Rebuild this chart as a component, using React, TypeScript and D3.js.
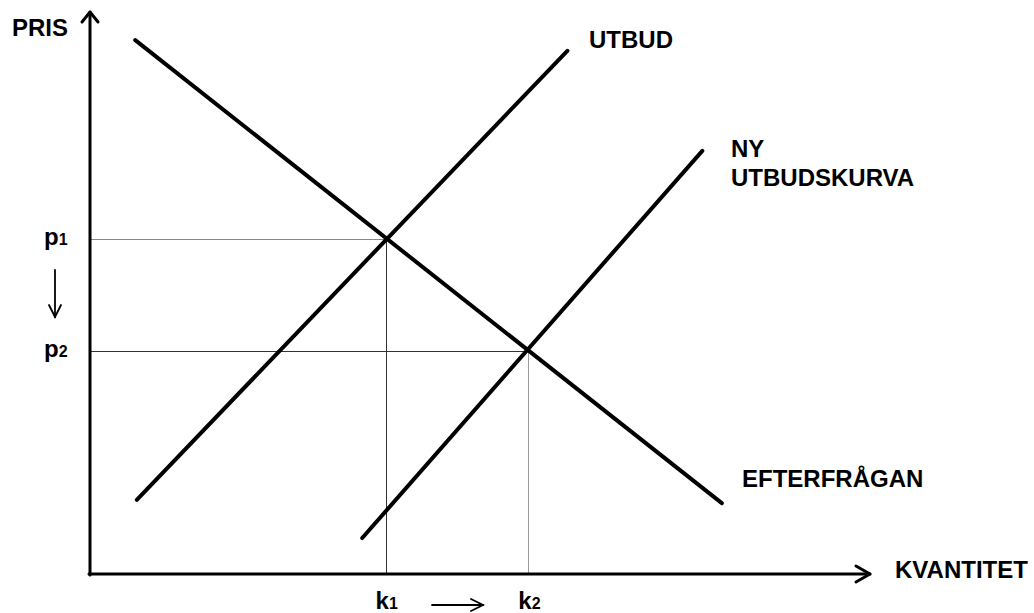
import * as d3 from "d3";
import { useEffect, useRef } from "react";

// quantities (x) and prices (y) of the curve end points, in axis units 0-100
const demandQ = [5.8, 81.0];
const demandP = [95.0, 12.6];
const supplyQ = [6.0, 61.2];
const supplyP = [13.2, 93.1];
const newSupplyQ = [34.9, 78.5];
const newSupplyP = [6.4, 75.3];

// equilibria
const eqQ = [37.9, 56.2];
const eqP = [59.6, 39.7];
const priceLabels = ["1", "2"];
const qtyLabels = ["1", "2"];

const axisTitles = { x: "KVANTITET", y: "PRIS" };
const curveLabels = ["UTBUD", "NY", "UTBUDSKURVA", "EFTERFRÅGAN"];

export default function App() {
  const ref = useRef<SVGSVGElement>(null);

  useEffect(() => {
    const width = 1034,
      height = 613;
    const svg = d3.select(ref.current);
    svg.selectAll("*").remove();

    const x = d3.scaleLinear().domain([0, 100]).range([90, 870]);
    const y = d3.scaleLinear().domain([0, 100]).range([574, 12]);
    const font = "'Liberation Sans', Arial, sans-serif";

    svg.append("rect").attr("width", width).attr("height", height).attr("fill", "#fff");

    // guide lines to the axes
    const g = svg.append("g").attr("stroke-width", 1).attr("fill", "none");
    eqQ.forEach((q, i) => {
      g.append("line")
        .attr("x1", x(0))
        .attr("x2", x(q))
        .attr("y1", Math.round(y(eqP[i])) + 0.5)
        .attr("y2", Math.round(y(eqP[i])) + 0.5)
        .attr("stroke", i === 0 ? "#888" : "#333");
      g.append("line")
        .attr("x1", Math.round(x(q)) + 0.5)
        .attr("x2", Math.round(x(q)) + 0.5)
        .attr("y1", y(eqP[i]))
        .attr("y2", y(0))
        .attr("stroke", i === 0 ? "#333" : "#999");
    });

    // curves
    const curves = [
      [demandQ, demandP],
      [supplyQ, supplyP],
      [newSupplyQ, newSupplyP],
    ];
    curves.forEach(([qs, ps]) => {
      const pts: [number, number][] = qs.map((q, i) => [x(q), y(ps[i])]);
      svg
        .append("path")
        .attr("d", d3.line()(pts))
        .attr("stroke", "#000")
        .attr("stroke-width", 4)
        .attr("stroke-linecap", "round")
        .attr("fill", "none");
    });

    // axes
    const ax = svg
      .append("g")
      .attr("stroke", "#000")
      .attr("stroke-width", 3)
      .attr("fill", "none")
      .attr("stroke-linecap", "round")
      .attr("stroke-linejoin", "round");
    ax.append("line").attr("x1", x(0)).attr("x2", x(0)).attr("y1", y(0) + 1).attr("y2", y(100));
    ax.append("line").attr("x1", x(0) - 1).attr("x2", x(100)).attr("y1", y(0)).attr("y2", y(0));
    ax.append("path").attr("d", `M${x(0) - 8},${y(100) + 10}L${x(0)},${y(100)}L${x(0) + 8},${y(100) + 10}`);
    ax.append("path").attr("d", `M${x(100) - 14},${y(0) - 8}L${x(100)},${y(0)}L${x(100) - 14},${y(0) + 8}`);

    const text = (tx: number, ty: number, s: string) =>
      svg
        .append("text")
        .attr("x", tx)
        .attr("y", ty)
        .attr("font-family", font)
        .attr("font-weight", "bold")
        .attr("font-size", 24)
        .attr("fill", "#000")
        .text(s);

    text(12, 36, axisTitles.y);
    text(895, 578, axisTitles.x);
    text(589, 48, curveLabels[0]);
    text(731, 157, curveLabels[1]);
    text(731, 186, curveLabels[2]);
    text(742, 487, curveLabels[3]);

    // p1, p2
    eqP.forEach((p, i) => {
      const t = text(44, y(p) + 6, "p");
      t.append("tspan").attr("font-size", 16).text(priceLabels[i]);
    });
    // k1, k2
    eqQ.forEach((q, i) => {
      const t = text(x(q) - 10, 609, "k");
      t.append("tspan").attr("font-size", 16).text(qtyLabels[i]);
    });

    // small shift arrows
    const sa = svg
      .append("g")
      .attr("stroke", "#000")
      .attr("stroke-width", 1.8)
      .attr("fill", "none")
      .attr("stroke-linecap", "round");
    sa.append("line").attr("x1", 55).attr("x2", 55).attr("y1", 270).attr("y2", 317);
    sa.append("path").attr("d", "M49,305L55,317L61,305");
    sa.append("line").attr("x1", 432).attr("x2", 483).attr("y1", 605).attr("y2", 605);
    sa.append("path").attr("d", "M471,599L483,605L471,611");
  }, []);

  return (
    <svg
      ref={ref}
      width={1034}
      height={613}
      style={{ position: "absolute", left: 0, top: 0 }}
    />
  );
}
